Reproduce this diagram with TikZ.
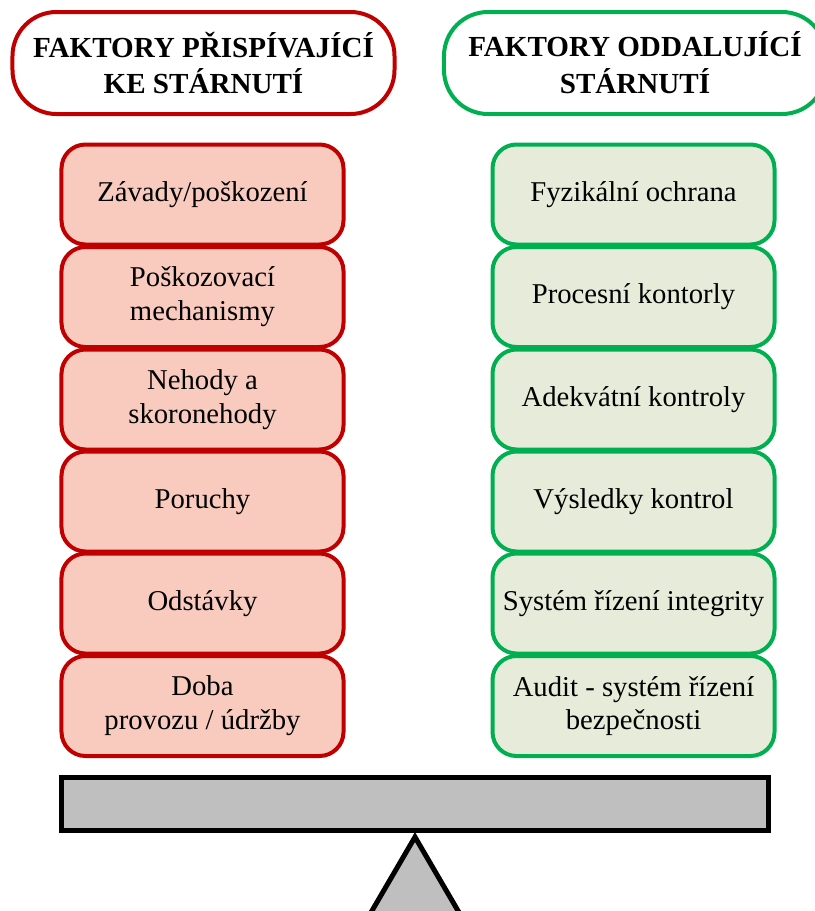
\documentclass[tikz,border=0pt]{standalone}
\usepackage{fontspec}
\setmainfont{Liberation Serif}
\definecolor{bordoRosso}{HTML}{C00000}
\definecolor{fondoRosso}{HTML}{F8CBBE}
\definecolor{bordoVerde}{HTML}{00B050}
\definecolor{fondoVerde}{HTML}{E7EBDA}
\definecolor{grigio}{HTML}{BFBFBF}
\tikzset{
  titolo/.style={draw, fill=white, line width=2bp, rounded corners=22bp,
    minimum width=191bp, minimum height=51bp, align=center,
    font=\fontsize{14.6}{18.5}\selectfont\bfseries},
  fattore/.style={draw, line width=2bp, rounded corners=12bp,
    minimum width=141bp, minimum height=50bp, align=center,
    font=\fontsize{14.4}{17}\selectfont},
  rischio/.style={fattore, draw=bordoRosso, fill=fondoRosso},
  difesa/.style={fattore, draw=bordoVerde, fill=fondoVerde}
}
\begin{document}
\begin{tikzpicture}[x=0.5bp, y=-0.5bp]
        \useasboundingbox (0,0) rectangle (815,911);
        \clip (0,0) rectangle (815,911);
        %titoli
        \node[titolo, draw=bordoRosso] (titRischi) at (203.5,63) {FAKTORY PŘISPÍVAJÍCÍ\\KE STÁRNUTÍ};
        \node[titolo, draw=bordoVerde] (titDifese) at (635,63) {FAKTORY ODDALUJÍCÍ\\STÁRNUTÍ};
        %colonna 1
        \node[rischio] (r1) at (202.5,194.5) {Závady/poškození};
        \node[rischio] (r2) at (202.5,297) {Poškozovací\\mechanismy};
        \node[rischio] (r3) at (202.5,399.5) {Nehody a\\skoronehody};
        \node[rischio] (r4) at (202.5,501.5) {Poruchy};
        \node[rischio] (r5) at (202.5,603.5) {Odstávky};
        \node[rischio] (r6) at (202.5,706) {Doba\\provozu / údržby};
        %colonna 2
        \node[difesa] (d1) at (633.5,194.5) {Fyzikální ochrana};
        \node[difesa] (d2) at (633.5,297) {Procesní kontorly};
        \node[difesa] (d3) at (633.5,399.5) {Adekvátní kontroly};
        \node[difesa] (d4) at (633.5,501.5) {Výsledky kontrol};
        \node[difesa] (d5) at (633.5,603.5) {Systém řízení integrity};
        \node[difesa] (d6) at (633.5,706) {Audit - systém řízení\\bezpečnosti};
        %bilancia
        \draw[line width=2.5bp, fill=grigio] (61.5,777.5) rectangle (768.5,830.5); %trave
        \draw[line width=2.5bp, fill=grigio, line join=miter] (415,837) -- (359,933) -- (471,933) -- cycle; %fulcro
    \end{tikzpicture}
\end{document}
